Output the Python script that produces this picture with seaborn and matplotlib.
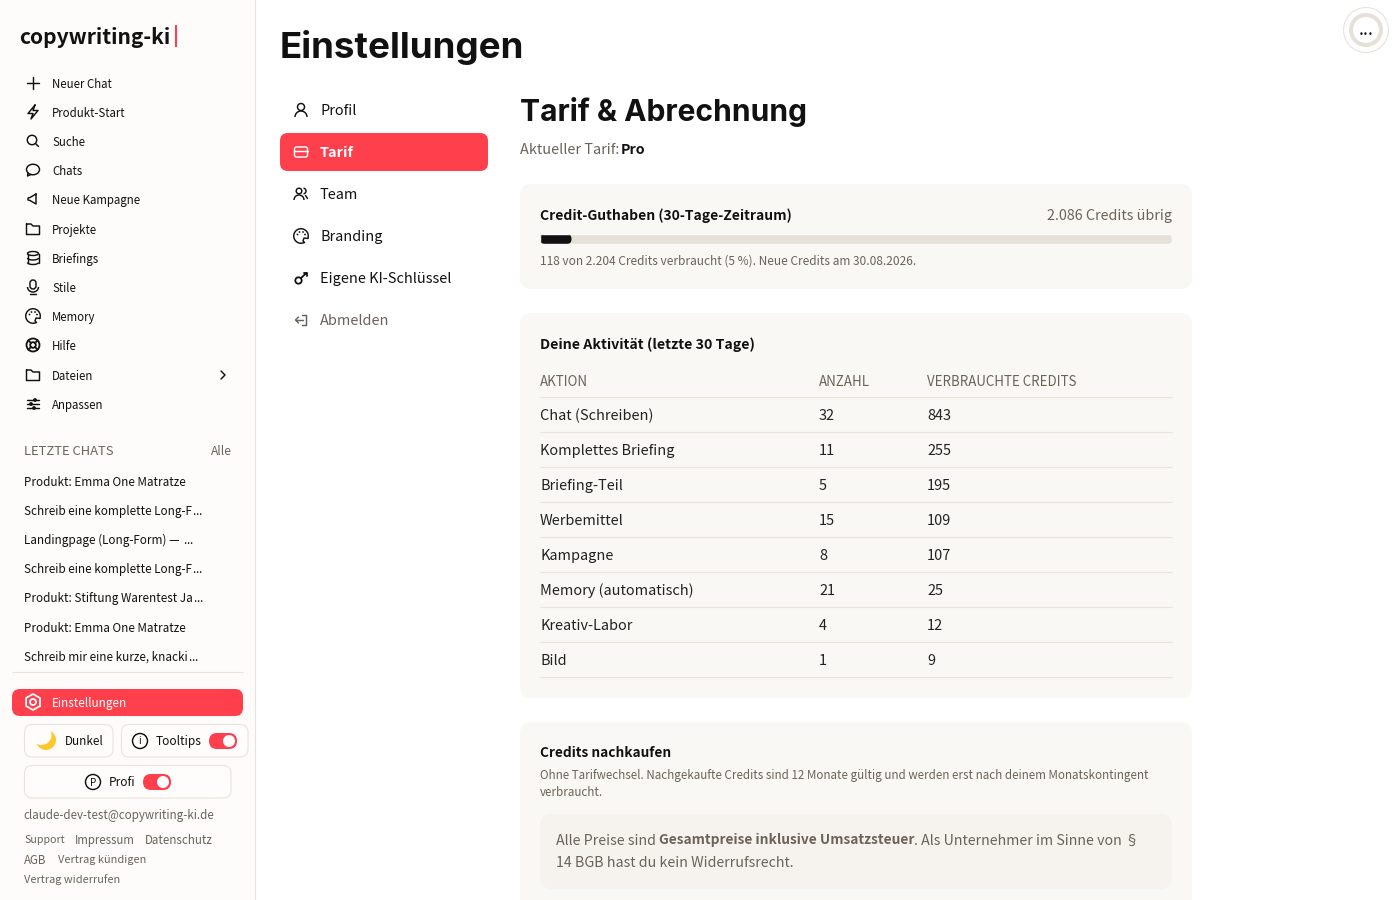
import matplotlib
matplotlib.use('Agg')
import matplotlib.pyplot as plt
import seaborn as sns
import numpy as np
from matplotlib.patches import Circle, FancyBboxPatch, Arc, Ellipse

# Sidebar content
nav_labels = ['Neuer Chat', 'Produkt-Start', 'Suche', 'Chats', 'Neue Kampagne', 'Projekte',
              'Briefings', 'Stile', 'Memory', 'Hilfe', 'Dateien', 'Anpassen']
nav_icons = ['plus', 'bolt', 'search', 'chat', 'mega', 'folder', 'db', 'mic', 'palette', 'buoy', 'folder', 'sliders']
nav_y = [83, 112, 141, 170, 199, 229, 258, 287, 316, 345, 375, 404]
chat_labels = ['Produkt: Emma One Matratze', 'Schreib eine komplette Long-F\u2026', 'Landingpage (Long-Form) \u2014 \u2026',
               'Schreib eine komplette Long-F\u2026', 'Produkt: Stiftung Warentest Ja\u2026',
               'Produkt: Emma One Matratze', 'Schreib mir eine kurze, knacki\u2026']
chat_y = [481, 510, 539, 568, 597, 627, 656]

# Settings menu
menu_labels = ['Profil', 'Tarif', 'Team', 'Branding', 'Eigene KI-Schl\u00fcssel', 'Abmelden']
menu_icons = ['user', 'card', 'team', 'palette', 'key', 'logout']
menu_y = [110, 152, 194, 236, 278, 320]

# Activity table
actions = ['Chat (Schreiben)', 'Komplettes Briefing', 'Briefing-Teil', 'Werbemittel', 'Kampagne',
           'Memory (automatisch)', 'Kreativ-Labor', 'Bild']
counts = [32, 11, 5, 15, 8, 21, 4, 1]
credits = [843, 255, 195, 109, 107, 25, 12, 9]

# Credit usage in percent, as the bar shows it
used_pct = 5
total_pct = 100

RED = '#FF3F4C'
INK = '#111111'
GRAY = '#6B635A'
LINE = '#E8E4DA'
CARD = '#FAF8F4'
BODY = 'Noto Sans CJK JP'
HEAD = 'Inter'

sns.set_theme(style='white')
plt.rcParams['font.family'] = [BODY, 'DejaVu Sans']

fig = plt.figure(figsize=(14, 9), dpi=100, facecolor='white')
ax = fig.add_axes([0, 0, 1, 1])
ax.set_xlim(0, 1400)
ax.set_ylim(900, 0)
ax.axis('off')
LW = 1.05


def label(x, y, s, px=14, color=INK, weight='normal', ha='left', family=None):
    # y is the visual middle of the line, px the font size in pixels
    return ax.text(x, y + px * 0.4, s, fontsize=px * 0.72, color=color, fontweight=weight, ha=ha,
                   va='baseline', family=family or [BODY, 'DejaVu Sans'])


def right_edge(t):
    return ax.transData.inverted().transform(t.get_window_extent(renderer))[1][0]


def rule(x0, x1, y):
    ax.plot([x0, x1], [y, y], color=LINE, lw=0.8, zorder=2, solid_capstyle='butt')


def box(x0, y0, x1, y1, r, fc='none', ec='none', lw=1, z=1):
    p = FancyBboxPatch((x0 + r, y0 + r), x1 - x0 - 2 * r, y1 - y0 - 2 * r, boxstyle=f'round,pad={r},rounding_size={r}',
                       fc=fc, ec=ec, lw=lw, zorder=z, mutation_aspect=1)
    ax.add_patch(p)
    return p


def stroke(cx, cy, pts, c, closed=False, lw=LW):
    pts = list(pts) + ([pts[0]] if closed else [])
    xs = [cx + p[0] for p in pts]
    ys = [cy + p[1] for p in pts]
    ax.plot(xs, ys, color=c, lw=lw, solid_capstyle='round', solid_joinstyle='round', zorder=5)


def ring(cx, cy, r, c, lw=LW):
    ax.add_patch(Circle((cx, cy), r, fc='none', ec=c, lw=lw, zorder=5))


def dot(cx, cy, r, c):
    ax.add_patch(Circle((cx, cy), r, fc=c, ec='none', zorder=6))


def icon(name, cx, cy, c=INK):
    if name == 'plus':
        stroke(cx, cy, [(-6, 0), (6, 0)], c)
        stroke(cx, cy, [(0, -6), (0, 6)], c)
    elif name == 'bolt':
        stroke(cx, cy, [(2, -7), (-5, 1.5), (0, 1.5), (-2, 7), (5, -1.5), (0, -1.5)], c, True)
    elif name == 'search':
        ring(cx - 1, cy - 1, 4.7, c)
        stroke(cx, cy, [(2.5, 2.5), (5.5, 5.5)], c)
    elif name == 'chat':
        ax.add_patch(Ellipse((cx, cy - 0.5), 13, 10.5, fc='none', ec=c, lw=LW, zorder=5))
        stroke(cx, cy, [(-5, 3), (-5.5, 6), (-2, 4.5)], c)
    elif name == 'mega':
        stroke(cx, cy, [(3, -5), (3, 5), (-3, 1.5), (-5, 1), (-5, -1), (-3, -1.5)], c, True)
    elif name == 'folder':
        stroke(cx, cy, [(-6.5, -5), (-2, -5), (0, -3), (6.5, -3), (6.5, 5.5), (-6.5, 5.5)], c, True)
    elif name == 'db':
        ax.add_patch(Ellipse((cx, cy - 4.5), 11, 4, fc='none', ec=c, lw=LW, zorder=5))
        stroke(cx, cy, [(-5.5, -4.5), (-5.5, 4.5)], c)
        stroke(cx, cy, [(5.5, -4.5), (5.5, 4.5)], c)
        ax.add_patch(Arc((cx, cy), 11, 4, theta1=0, theta2=180, ec=c, lw=LW, zorder=5))
        ax.add_patch(Arc((cx, cy + 4.5), 11, 4, theta1=0, theta2=180, ec=c, lw=LW, zorder=5))
    elif name == 'mic':
        box(cx - 3, cy - 7, cx + 3, cy + 2, 3, ec=c, lw=LW, z=5)
        ax.add_patch(Arc((cx, cy), 11, 10, theta1=0, theta2=180, ec=c, lw=LW, zorder=5))
        stroke(cx, cy, [(-3, 7), (3, 7)], c)
    elif name == 'palette':
        ax.add_patch(Arc((cx, cy), 14.5, 14.5, theta1=60, theta2=20, ec=c, lw=LW, zorder=5))
        stroke(cx, cy, [(7, 2.5), (3, 2), (2, 5), (3.5, 6.5)], c)
        for dx, dy in [(-3.5, -1.5), (-1.5, -4), (2, -4), (4, -1.5)]:
            dot(cx + dx, cy + dy, 0.9, c)
    elif name == 'buoy':
        ring(cx, cy, 6.5, c, 1.3)
        ring(cx, cy, 2.8, c, 1.3)
        for sx, sy in [(-1, -1), (1, -1), (-1, 1), (1, 1)]:
            stroke(cx, cy, [(sx * 2, sy * 2), (sx * 4.6, sy * 4.6)], c, lw=1.3)
    elif name == 'sliders':
        for dy, dx in [(-4, 2), (0, -2), (4, 1)]:
            stroke(cx, cy, [(-6, dy), (6, dy)], c)
            dot(cx + dx, cy + dy, 1.9, c)
    elif name == 'gear':
        angles = np.radians(np.arange(30, 390, 60))
        stroke(cx, cy, list(zip(8 * np.cos(angles), 8 * np.sin(angles))), c, True, lw=1.3)
        ring(cx, cy, 3, c, 1.3)
    elif name == 'user':
        ring(cx, cy - 3, 3.5, c)
        ax.add_patch(Arc((cx, cy + 7), 12, 12, theta1=180, theta2=360, ec=c, lw=LW, zorder=5))
    elif name == 'card':
        box(cx - 6.5, cy - 5, cx + 6.5, cy + 5, 2, ec=c, lw=LW, z=5)
        stroke(cx, cy, [(-6.5, -1.5), (6.5, -1.5)], c)
    elif name == 'team':
        ring(cx - 2, cy - 3, 2.8, c)
        ax.add_patch(Arc((cx - 2, cy + 6), 10, 10, theta1=180, theta2=360, ec=c, lw=LW, zorder=5))
        ax.add_patch(Arc((cx + 2.5, cy - 3), 5, 5.5, theta1=270, theta2=90, ec=c, lw=LW, zorder=5))
        stroke(cx, cy, [(4.5, 1.5), (6.5, 4.5)], c)
    elif name == 'key':
        ring(cx - 2.5, cy + 2.5, 3.2, c, 1.3)
        stroke(cx, cy, [(0, 0), (5.5, -5)], c, lw=1.3)
        stroke(cx, cy, [(3, -5), (5.5, -5), (5.5, -2.5)], c, lw=1.3)
    elif name == 'logout':
        stroke(cx, cy, [(1, -5), (5, -5), (5, 5), (1, 5)], c)
        stroke(cx, cy, [(2, 0), (-5.5, 0)], c)
        stroke(cx, cy, [(-2.5, -3), (-5.5, 0), (-2.5, 3)], c)


def toggle(x0, cy):
    box(x0, cy - 8, x0 + 28, cy + 8, 8, fc=RED, z=3)
    ax.add_patch(Circle((x0 + 20, cy), 6, fc='white', ec='none', zorder=4))


fig.canvas.draw()
renderer = fig.canvas.get_renderer()

# Sidebar
ax.axvspan(0, 255, color='#FDFCFA', zorder=0, lw=0)
ax.plot([255, 255], [0, 900], color=LINE, lw=0.8, zorder=1)
label(19.5, 36, 'copywriting-ki', 21, INK, 'bold')
ax.plot([176, 176], [25, 47], color=RED, lw=1.5, solid_capstyle='butt')

for name, text, y in zip(nav_icons, nav_labels, nav_y):
    icon(name, 33, y)
    label(52, y, text, 11.5)
stroke(223, 375, [(-2, -4), (2, 0), (-2, 4)], INK)

label(24, 450, 'LETZTE CHATS', 13, GRAY)
label(232, 450, 'Alle', 12, GRAY, ha='right')
for text, y in zip(chat_labels, chat_y):
    # the CJK font centres its ellipsis, the reference has it on the baseline
    if text.endswith('\u2026'):
        t = label(24, y, text[:-1], 11.7)
        label(right_edge(t) + 0.5, y, '\u2026', 11.7, family='Noto Sans')
    else:
        label(24, y, text, 11.7)
rule(12, 243, 672)

box(12, 689, 243, 716, 8, fc=RED)
icon('gear', 33, 702, 'white')
label(52, 702, 'Einstellungen', 11.7, 'white')

box(24.5, 724.5, 113, 757, 8, ec=LINE, fc='#FEFDFB', lw=0.8)
box(121.5, 724.5, 248, 757, 8, ec=LINE, fc='#FEFDFB', lw=0.8)
box(24.5, 765.5, 231, 798, 8, ec=LINE, fc='#FEFDFB', lw=0.8)
ax.add_patch(Circle((46, 740), 10, fc='#FFC72C', ec='none', zorder=4))
ax.add_patch(Circle((41.5, 735), 10, fc='#FEFDFB', ec='none', zorder=4))
label(65, 740, 'Dunkel', 11.7)
ring(140, 741, 7.5, INK)
label(140, 740.5, 'i', 10, ha='center')
label(156, 740, 'Tooltips', 12)
toggle(209, 741)
ring(93, 782, 7.5, INK)
label(93, 781.5, 'P', 10, ha='center')
label(109, 781, 'Profi', 12)
toggle(143, 782)

label(23.5, 814, 'claude-dev-test@copywriting-ki.de', 11.6, GRAY)
for x, y, text, px in [(24, 839, 'Support', 10.6), (75, 839, 'Impressum', 11.5), (145, 839, 'Datenschutz', 11.6),
                       (24, 859, 'AGB', 11.5), (58, 859, 'Vertrag k\u00fcndigen', 11), (24, 879, 'Vertrag widerrufen', 11)]:
    label(x, y, text, px, GRAY)

# Settings heading and menu
label(280, 43.5, 'Einstellungen', 36.8, INK, 'bold', family=HEAD)
box(280, 133, 488, 171, 8, fc=RED)
for name, text, y in zip(menu_icons, menu_labels, menu_y):
    selected = text == 'Tarif'
    muted = text == 'Abmelden'
    c = 'white' if selected else (GRAY if muted else INK)
    icon(name, 301, y, c)
    label(320, y - 0.7, text, 14.5, c, 'bold' if selected else 'normal')

# Plan section
label(520, 109, 'Tarif & Abrechnung', 30, INK, 'bold', family=HEAD)
label(520, 148, 'Aktueller Tarif:', 14.5, GRAY)
label(621, 148, 'Pro', 14.2, INK, 'bold')

# Credit card
box(520, 184, 1192, 289, 12, fc=CARD)
label(540, 214, 'Credit-Guthaben (30-Tage-Zeitraum)', 13.9, INK, 'bold')
label(1172, 214, '2.086 Credits \u00fcbrig', 14.3, GRAY, ha='right')
label(540, 260, '118 von 2.204 Credits verbraucht (5 %). Neue Credits am 30.08.2026.', 11.9, GRAY)

ax_bar = fig.add_axes([540 / 1400, 1 - 244 / 900, 632 / 1400, 10 / 900], zorder=3)
sns.barplot(x=[total_pct], y=['credits'], color='#E5E1D8', saturation=1, width=1, ax=ax_bar)
sns.barplot(x=[used_pct], y=['credits'], color=INK, saturation=1, width=1, ax=ax_bar)
ax_bar.set_xlim(0, total_pct)
ax_bar.set_ylim(0.5, -0.5)
ax_bar.axis('off')
# rounded ends come from clipping the bars, the widths stay those of the data
for bar, pct in zip(ax_bar.patches, [total_pct, used_pct]):
    clip = FancyBboxPatch((545, 239), 632 * pct / total_pct - 10, 0, boxstyle='round,pad=5,rounding_size=5',
                          transform=ax.transData)
    bar.set_clip_path(clip)

# Activity card
box(520, 313, 1192, 698, 12, fc=CARD)
label(540, 343, 'Deine Aktivit\u00e4t (letzte 30 Tage)', 14.2, INK, 'bold')
label(540, 381, 'AKTION', 13.3, GRAY)
label(819, 381, 'ANZAHL', 13.3, GRAY)
label(927, 381, 'VERBRAUCHTE CREDITS', 13.3, GRAY)
rule(540, 1172, 397)
for i, (a, n, c) in enumerate(zip(actions, counts, credits)):
    y = 414.5 + 35 * i
    label(540, y, a, 14.5, '#222222')
    label(819, y, str(n), 14.5, '#222222')
    label(927, y, str(c), 14.5, '#222222')
    rule(540, 1172, y + 17.5)

# Top-up card, runs past the bottom edge
box(520, 722, 1192, 930, 12, fc=CARD)
label(540, 752, 'Credits nachkaufen', 13.6, INK, 'bold')
label(540, 774, 'Ohne Tarifwechsel. Nachgekaufte Credits sind 12 Monate g\u00fcltig und werden erst nach deinem Monatskontingent', 11.6, GRAY)
label(540, 791, 'verbraucht.', 11.6, GRAY)
box(540, 814, 1172, 889, 12, fc='#F6F3EE', z=2)
x = 556
for s, w, px in [('Alle Preise sind ', 'normal', 14.25), ('Gesamtpreise inklusive Umsatzsteuer', 'bold', 13.7),
                 ('. Als Unternehmer im Sinne von \u00a7', 'normal', 14.25)]:
    t = label(x, 839, s, px, GRAY, w)
    t.set_zorder(3)
    x = right_edge(t)
label(556, 861, '14 BGB hast du kein Widerrufsrecht.', 14.25, GRAY).set_zorder(3)

# Round widget top right
ring(1366, 30, 22.5, LINE, 0.8)
ring(1366, 30, 15, '#E5E1D8', 2.9)
label(1366, 28, '...', 18, INK, ha='center')

fig.savefig('out.png', dpi=100, facecolor='white')
